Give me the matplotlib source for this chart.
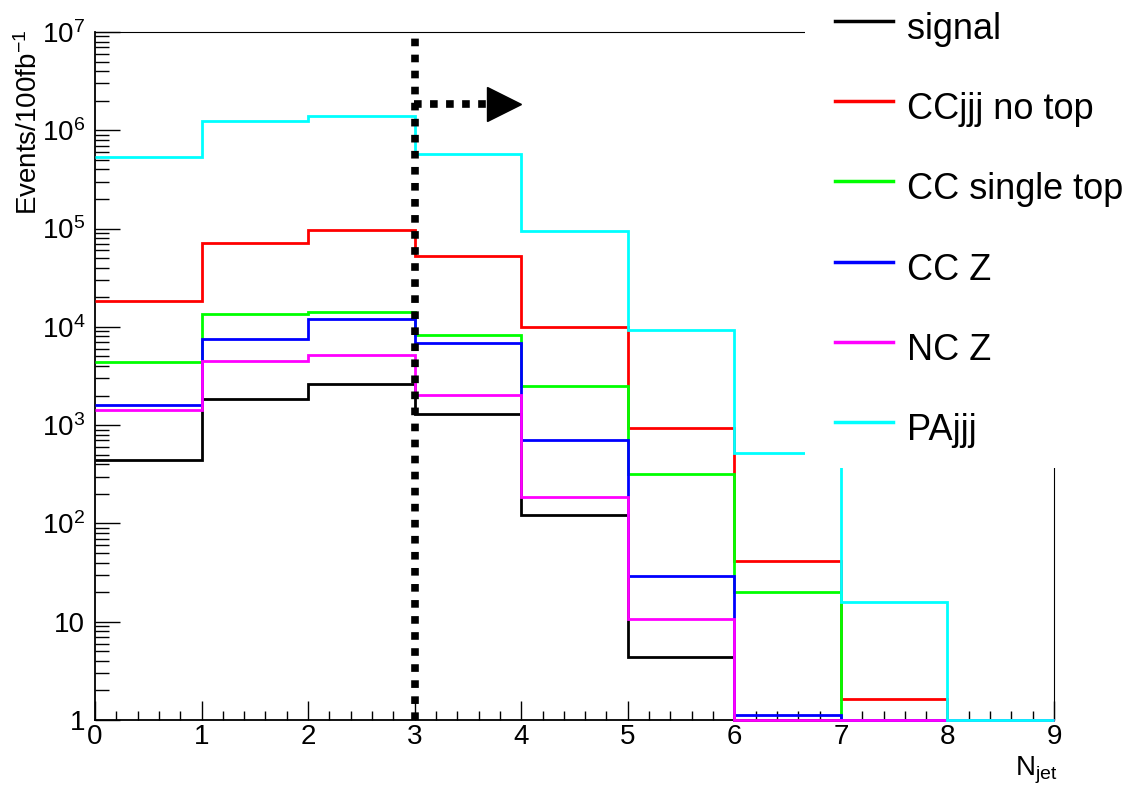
import numpy as np
import matplotlib
matplotlib.use('Agg')
import matplotlib.pyplot as plt
from matplotlib.patches import Rectangle
from matplotlib.lines import Line2D
from matplotlib.ticker import FixedLocator, FixedFormatter, LogLocator, MultipleLocator, NullFormatter

plt.rcParams['font.family'] = ['Liberation Sans', 'DejaVu Sans']
plt.rcParams['mathtext.fontset'] = 'custom'
plt.rcParams['mathtext.rm'] = 'Liberation Sans'
plt.rcParams['mathtext.it'] = 'Liberation Sans:italic'
plt.rcParams['mathtext.bf'] = 'Liberation Sans:bold'

# ---------------- data ----------------
bin_edges = [0, 1, 2, 3, 4, 5, 6, 7, 8, 9]
series_names = ['signal', 'CCjjj no top', 'CC single top', 'CC Z', 'NC Z', 'PAjjj']
series_colors = ['#000000', '#ff0000', '#00ff00', '#0000ff', '#ff00ff', '#00ffff']
signal        = [439, 1830, 2600, 1300, 121, 4.4, 0, 0, 0]
ccjjj_no_top  = [1.85e4, 7.2e4, 9.7e4, 5.3e4, 1.0e4, 927, 41, 1.64, 0]
cc_single_top = [4.35e3, 1.35e4, 1.41e4, 8.3e3, 2.5e3, 318, 19.9, 0, 0]
cc_z          = [1.59e3, 7.6e3, 1.19e4, 6.9e3, 700, 29.2, 1.13, 0, 0]
nc_z          = [1.43e3, 4.46e3, 5.13e3, 2.02e3, 187, 10.6, 0, 0, 0]
pajjj         = [5.3e5, 1.24e6, 1.41e6, 5.7e5, 9.4e4, 9.3e3, 517, 16, 0]
series_values = [signal, ccjjj_no_top, cc_single_top, cc_z, nc_z, pajjj]

y_tick_values = [1, 10, 1e2, 1e3, 1e4, 1e5, 1e6, 1e7]
y_tick_labels = ['1', '10', r'$\mathregular{10^{2}}$', r'$\mathregular{10^{3}}$',
                 r'$\mathregular{10^{4}}$', r'$\mathregular{10^{5}}$',
                 r'$\mathregular{10^{6}}$', r'$\mathregular{10^{7}}$']
x_tick_values = [0, 1, 2, 3, 4, 5, 6, 7, 8, 9]
cut_value = 3
arrow_level = 1.85e6
y_min, y_max = 1, 1e7

# ---------------- figure ----------------
W, H = 1140, 786
fig = plt.figure(figsize=(W / 100, H / 100), dpi=100)
fx = lambda px: px / W
fy = lambda py: 1 - py / H
ax = fig.add_axes([fx(95), fy(720), fx(1054) - fx(95), fy(32) - fy(720)])

for vals, col in zip(series_values, series_colors):
    v = np.clip(np.asarray(vals, dtype=float), y_min, None)  # ROOT draws empty bins at the minimum
    ax.stairs(v, bin_edges, baseline=None, color=col, lw=2.0, zorder=3, clip_on=False)

ax.set_yscale('log')
ax.set_xlim(bin_edges[0], bin_edges[-1])
ax.set_ylim(y_min, y_max)

# cut line and arrow
ax.plot([cut_value, cut_value], [y_min, y_max], color='black', lw=5.5,
        linestyle=(0, (1, 1.1)), zorder=5, solid_capstyle='butt')
ax.plot([cut_value - 0.01, cut_value + 0.68], [arrow_level, arrow_level], color='black', lw=5.5,
        linestyle=(0, (1, 1.1)), zorder=5)
ax.plot([cut_value + 0.84], [arrow_level], marker='>', ms=25, color='black', mec='black', zorder=5)

# axes style
ax.yaxis.set_major_locator(FixedLocator(y_tick_values))
ax.yaxis.set_major_formatter(FixedFormatter(y_tick_labels))
ax.yaxis.set_minor_locator(LogLocator(base=10, subs=np.arange(2, 10)))
ax.yaxis.set_minor_formatter(NullFormatter())
ax.xaxis.set_major_locator(FixedLocator(x_tick_values))
ax.xaxis.set_minor_locator(MultipleLocator(0.2))

ax.tick_params(axis='y', which='major', direction='in', length=18, width=1.0, labelsize=20, pad=7,
               left=True, right=False)
ax.tick_params(axis='y', which='minor', direction='in', length=10, width=1.0, left=True, right=False)
ax.tick_params(axis='x', which='major', direction='in', length=14, width=1.0, labelsize=20, pad=3,
               bottom=True, top=False)
ax.tick_params(axis='x', which='minor', direction='in', length=6.5, width=1.0, bottom=True, top=False)

for s in ['left', 'bottom']:
    ax.spines[s].set_linewidth(1.3)
for s in ['top', 'right']:
    ax.spines[s].set_linewidth(0.8)

fig.text(fx(29), fy(30), r'Events/100fb$^{\mathregular{-1}}$', rotation=90, ha='center', va='top',
         fontsize=20)
fig.text(fx(1058), fy(775), r'$\mathregular{N_{jet}}$', ha='right', va='baseline', fontsize=20)

# legend (white box covering the upper-right corner, as in the original)
fig.add_artist(Rectangle((fx(805), fy(468)), 1 - fx(805), 468 / H, transform=fig.transFigure,
                         facecolor='white', edgecolor='none', zorder=10))
for i, (name, col) in enumerate(zip(series_names, series_colors)):
    yl = 21 + 80.2 * i
    fig.add_artist(Line2D([fx(835), fx(893)], [fy(yl), fy(yl)], transform=fig.transFigure,
                          color=col, lw=2.5, zorder=11))
    fig.text(fx(907), fy(yl + 18), name, ha='left', va='baseline', fontsize=26, zorder=11)

fig.savefig('out.png', dpi=100)
